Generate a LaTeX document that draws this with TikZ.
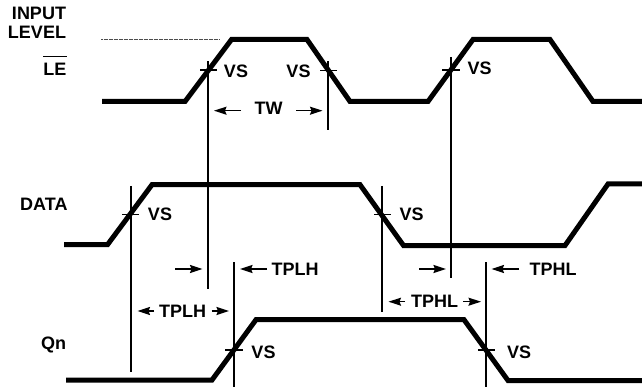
\documentclass[tikz,border=0pt]{standalone}
\usepackage{fontspec}
\setmainfont{Liberation Sans}
\usetikzlibrary{arrows.meta}
\tikzset{
  x=1pt,y=-1pt,
  wave/.style={line width=5pt,line join=miter,line cap=butt},
  guide/.style={line width=1.5pt},
  tick/.style={line width=1.5pt},
  dim/.style={line width=1.5pt,-{Stealth[length=12.5pt,width=8pt,inset=1.5pt]}},
  lab/.style={font=\fontsize{18}{19}\selectfont\bfseries,inner sep=0pt,outer sep=0pt,text=black},
  rlab/.style={lab,align=right,anchor=base east},
  clab/.style={lab,anchor=base},
}
\begin{document}
\begin{tikzpicture}
\useasboundingbox (0,0) rectangle (642,390);
% waveforms
\draw[wave] (102,101.5) -- (185,101.5) -- (231.5,39.5) -- (307,39.5) -- (350,101.5) -- (428,101.5) -- (473,39.5) -- (550,39.5) -- (593,101.5) -- (642,101.5);
\draw[wave] (64,244.7) -- (107.5,244.7) -- (152,184.7) -- (360,184.7) -- (403.5,245.5) -- (565,245.5) -- (608,184) -- (642,184);
\draw[wave] (66,380) -- (212,380) -- (256,319.7) -- (464,319.7) -- (508,380.5) -- (642,380.5);
% input level dashed line
\draw[line width=1pt,black!70,dash pattern=on 2pt off 0.5pt] (101,39.5) -- (220,39.5);
% guides
\draw[guide] (208,61.5) -- (208,289);
\draw[guide] (328,61.5) -- (328,130.5);
\draw[guide] (451,57) -- (451,278);
\draw[guide] (131,186) -- (131,372);
\draw[guide] (382,186) -- (382,311.7);
\draw[guide] (234,262) -- (234,387);
\draw[guide] (486,262) -- (486,387);
% ticks
\draw[tick] (200,70) -- (216.5,70);
\draw[tick] (320,70.7) -- (337,70.7);
\draw[tick] (442,70) -- (460,70);
\draw[tick] (122,214.3) -- (139,214.3);
\draw[tick] (374,214.5) -- (391,214.5);
\draw[tick] (225,350) -- (243,350);
\draw[tick] (478,350) -- (495,350);
% dimension arrows
\draw[dim] (241,110.7) -- (214,110.7);
\draw[dim] (296,110.7) -- (322.5,110.7);
\draw[dim] (175,269) -- (202.5,269);
\draw[dim] (267,269) -- (240,269);
\draw[dim] (154,311) -- (137.5,311);
\draw[dim] (211.5,311) -- (229,311);
\draw[dim] (419,269) -- (446,269);
\draw[dim] (519,269) -- (491.5,269);
\draw[dim] (405,301.7) -- (388.5,301.7);
\draw[dim] (463,301.7) -- (481,301.7);
% labels
\node[rlab] (input) at (66,20) {INPUT};
\node[rlab] (level) at (66,39) {LEVEL};
\node[rlab] (le) at (66.5,75.5) {LE};
\draw[line width=1.5pt] (le.west |- 0,56.7) -- (66.5,56.7);
\node[rlab] (data) at (67.5,211) {DATA};
\node[rlab] (qn) at (66,349.5) {Qn};
\node[clab] (vs1) at (236,77.5) {VS};
\node[clab] (vs2) at (298.5,77.5) {VS};
\node[clab] (vs3) at (479.5,75) {VS};
\node[clab] (vs4) at (160,220.5) {VS};
\node[clab] (vs5) at (411.5,220.5) {VS};
\node[clab] (vs6) at (263.5,358.5) {VS};
\node[clab] (vs7) at (519,358.5) {VS};
\node[clab] (tw) at (268.5,114.5) {TW};
\node[lab,anchor=base west] (t1) at (271.5,275.5) {TPLH};
\node[clab] (t2) at (182.5,317) {TPLH};
\node[lab,anchor=base west] (t3) at (529.5,275.5) {TPHL};
\node[clab] (t4) at (434.5,307.5) {TPHL};
\end{tikzpicture}
\end{document}
